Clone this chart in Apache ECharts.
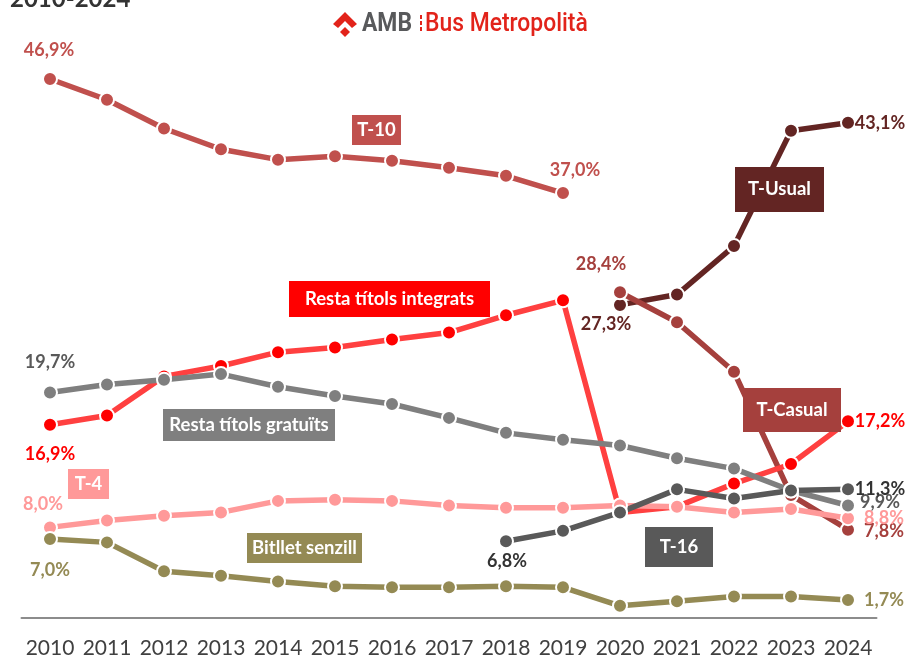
<!DOCTYPE html>
<html><head><meta charset="utf-8">
<style>html,body{margin:0;padding:0;background:#fff}#c{width:906px;height:656px}</style>
<script src="https://cdn.jsdelivr.net/npm/echarts@6/dist/echarts.min.js"></script>
</head><body><div id="c"></div>
<script>
const years = ['2010','2011','2012','2013','2014','2015','2016','2017','2018','2019','2020','2021','2022','2023','2024'];
const t10      = [46.9,45.1,42.6,40.8,39.9,40.2,39.8,39.2,38.5,37.0,null,null,null,null,null];
const tUsual   = [null,null,null,null,null,null,null,null,null,null,27.3,28.2,32.4,42.4,43.1];
const tCasual  = [null,null,null,null,null,null,null,null,null,null,28.4,25.8,21.5,10.8,7.8];
const integrats= [16.9,17.7,21.1,22.0,23.2,23.6,24.3,24.9,26.4,27.7,9.3,9.8,11.8,13.5,17.2];
const t4       = [8.0,8.6,9.0,9.3,10.3,10.4,10.3,9.9,9.7,9.7,9.9,9.8,9.3,9.6,8.8];
const bitllet  = [7.0,6.7,4.2,3.8,3.3,2.9,2.8,2.8,2.9,2.8,1.2,1.6,2.0,2.0,1.7];
const gratuits = [19.7,20.4,20.8,21.3,20.2,19.4,18.7,17.5,16.2,15.6,15.1,14.0,13.1,11.2,9.9];
const t16      = [null,null,null,null,null,null,null,null,6.8,7.7,9.3,11.3,10.5,11.2,11.3];

const FONT = 'Lato';
// [year index, dx, dy] of each printed value relative to its point
function series(name, values, lineColor, dotColor, labelColor, labels) {
  const data = values.map((v, i) => {
    const l = labels.find(x => x[0] === i);
    if (!l) return v;
    return { value: v, label: {
      show: true, position: 'inside', offset: [l[1], l[2]],
      formatter: () => v.toFixed(1).replace('.', ',') + '%',
      color: labelColor, fontFamily: FONT, fontWeight: 700, fontSize: 18
    }};
  });
  return {
    name, type: 'line', data, connectNulls: false, showAllSymbol: true,
    symbol: 'circle', symbolSize: 14,
    lineStyle: { color: lineColor, width: 5.5, cap: 'butt' },
    itemStyle: { color: dotColor, borderColor: '#fff', borderWidth: 2 },
    emphasis: { disabled: true }, animation: false
  };
}

function box(x, y, w, h, text, fill) {
  return { type: 'rect', z: 50, shape: { x, y, width: w, height: h }, style: { fill },
    textContent: { z: 51, style: { text, fill: '#fff', fontFamily: FONT, fontWeight: 700, fontSize: 18.5 } },
    textConfig: { position: 'inside' } };
}

const logo = [
  { type: 'polygon', shape: { points: [[345,12],[357,24],[352,28],[345,21],[338,28],[333,24]] }, style: { fill: '#E2231A' } },
  { type: 'polygon', shape: { points: [[345,27],[350,32],[345,37],[340,32]] }, style: { fill: '#E2231A' } },
  { type: 'text', x: 362, y: 11, scaleX: 0.88, style: { text: 'AMB', fill: '#58595B', fontFamily: 'Roboto', fontWeight: 700, fontSize: 26 } },
  { type: 'rect', shape: { x: 420, y: 15, width: 2, height: 4 }, style: { fill: '#E2231A' } },
  { type: 'rect', shape: { x: 420, y: 21, width: 2, height: 4 }, style: { fill: '#E2231A' } },
  { type: 'rect', shape: { x: 420, y: 27, width: 2, height: 4 }, style: { fill: '#E2231A' } },
  { type: 'text', x: 425, y: 11, scaleX: 0.88, style: { text: 'Bus Metropolità', fill: '#E2231A', fontFamily: 'Roboto', fontWeight: 500, fontSize: 26 } }
];

const chart = echarts.init(document.getElementById('c'), null, { renderer: 'canvas' });
chart.setOption({
  animation: false,
  backgroundColor: '#fff',
  grid: { left: 21.5, right: 29.5, top: 0, height: 618, outerBoundsMode: 'none' },
  xAxis: { type: 'category', data: years, boundaryGap: true,
    axisLine: { lineStyle: { color: '#8c8c8c', width: 2 } }, axisTick: { show: false },
    axisLabel: { interval: 0, color: '#404040', fontFamily: FONT, fontSize: 21, margin: 20 } },
  yAxis: { type: 'value', min: 0.14, max: 53.75, show: false, splitLine: { show: false } },
  graphic: [
    { type: 'text', x: 10, y: -13, style: { text: '2010-2024', fill: '#333', fontFamily: FONT, fontWeight: 700, fontSize: 24 } },
    ...logo,
    box(352,115,49,30,'T-10','#C0504D'),
    box(735,167,89,45,'T-Usual','#632523'),
    box(289,281,201,36,'Resta títols integrats','#FF0000'),
    box(163,409,172,32,'Resta títols gratuïts','#7F7F7F'),
    box(743,388,98,44,'T-Casual','#A5403D'),
    box(68,469,41,30,'T-4','#FF9999'),
    box(247,533,115,30,'Bitllet senzill','#948A54'),
    box(645,527,68,40,'T-16','#595959')
  ],
  series: [
    series('T-10', t10, '#C0504D', '#C0504D', '#C0504D', [[0,-1,-29],[9,12,-23]]),
    series('T-Usual', tUsual, '#632523', '#632523', '#632523', [[10,-14,19],[14,32,0]]),
    series('T-Casual', tCasual, '#A5403D', '#A5403D', '#A5403D', [[10,-19,-28],[14,36,1]]),
    series('Resta títols integrats', integrats, '#FF4040', '#FF0000', '#FF0000', [[0,0,29],[14,32,0]]),
    series('T-4', t4, '#FF9999', '#FF9999', '#FF9999', [[0,-7,-23],[14,36,0]]),
    series('Bitllet senzill', bitllet, '#948A54', '#948A54', '#948A54', [[0,0,31],[14,36,0]]),
    series('Resta títols gratuïts', gratuits, '#7F7F7F', '#7F7F7F', '#595959', [[0,0,-30],[14,32,-3]]),
    series('T-16', t16, '#595959', '#595959', '#333333', [[8,1,20],[14,32,0]])
  ]
});
</script></body></html>
